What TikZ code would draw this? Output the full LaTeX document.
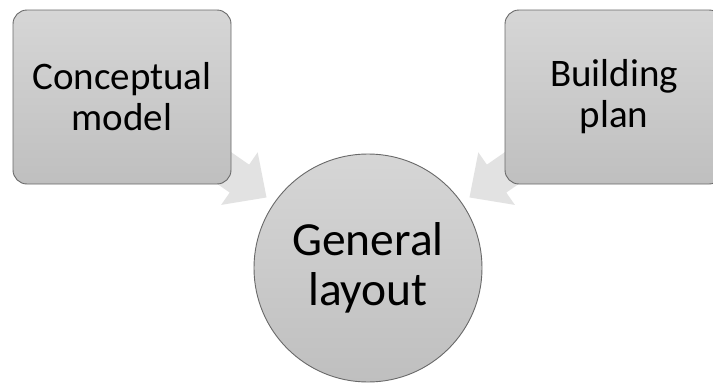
\documentclass[tikz,border=0pt]{standalone}
\usepackage{fontspec}
\setmainfont{Carlito}
\usetikzlibrary{calc,backgrounds}

\definecolor{boxtop}{RGB}{214,214,214}
\definecolor{boxbot}{RGB}{191,191,191}
\definecolor{boxline}{RGB}{105,105,105}
\definecolor{arrowgray}{RGB}{226,226,226}

% wide block arrow from node #1 towards node #2, tip 176pt from the tail centre
\newcommand\convarrow[2]{%
  \coordinate (tip-#1) at ($(#1.center)!176pt!(#2.center)$);
  \coordinate (base-#1) at ($(tip-#1)!33pt!(#1.center)$);
  \fill[arrowgray]
    ($(#1.center)!17pt!90:(tip-#1)$) --
    ($(base-#1)!17pt!90:(tip-#1)$) --
    ($(base-#1)!32pt!90:(tip-#1)$) --
    (tip-#1) --
    ($(base-#1)!32pt!-90:(tip-#1)$) --
    ($(base-#1)!17pt!-90:(tip-#1)$) --
    ($(#1.center)!17pt!-90:(tip-#1)$) -- cycle;
}

\tikzset{
  box/.style={rectangle, rounded corners=14pt, draw=boxline, line width=0.9pt,
    top color=boxtop, bottom color=boxbot,
    minimum width=218pt, minimum height=174pt, inner sep=0pt,
    align=center, font=\fontsize{39}{41}\selectfont},
  hub/.style={circle, draw=boxline, line width=0.9pt,
    top color=boxtop, bottom color=boxbot,
    minimum size=228pt, inner sep=0pt,
    align=center, font=\fontsize{47.5}{50}\selectfont}
}

\begin{document}
\begin{tikzpicture}[x=1pt,y=-1pt]
\clip (0,0) rectangle (713,383);
\node[box] (cm) at (122,97) {Conceptual\\model};
\node[box] (bp) at (614,97) {Building\\plan};
\node[hub] (gl) at (368,268) {General\\layout};
\begin{scope}[on background layer]
  \fill[white] (0,0) rectangle (713,383);
  \convarrow{cm}{gl}
  \convarrow{bp}{gl}
\end{scope}
\end{tikzpicture}
\end{document}
